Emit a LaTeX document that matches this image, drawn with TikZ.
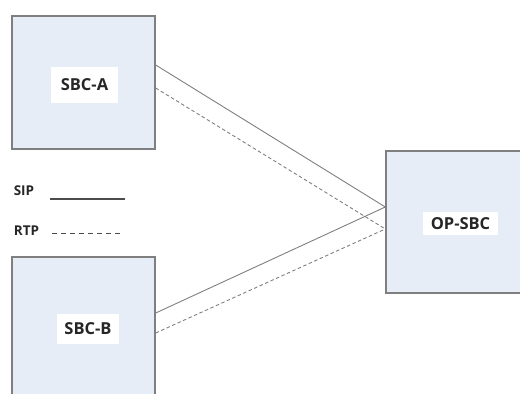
\documentclass[tikz,border=0pt]{standalone}
\usepackage{fontspec}
\setmainfont{Open Sans}
\definecolor{boxfill}{HTML}{E7EDF7}
\definecolor{boxdraw}{HTML}{7F7F7F}
\definecolor{linegray}{HTML}{808080}
\begin{document}
\begin{tikzpicture}[x=1pt,y=-1pt,
  device/.style={draw=boxdraw,line width=1.4pt,fill=boxfill,inner sep=0pt},
  devlabel/.style={fill=white,inner sep=0pt,font=\fontsize{16.5}{19}\selectfont\bfseries,text=black!85},
  legendtext/.style={inner sep=0pt,font=\fontsize{13.5}{16}\selectfont\bfseries,text=black!85},
  sipline/.style={draw=linegray,line width=0.9pt},
  rtpline/.style={draw=linegray,line width=0.9pt,dash pattern=on 3.5pt off 2.5pt},
  legsip/.style={draw=black!70,line width=1.1pt},
  legrtp/.style={draw=black!70,line width=1.1pt,dash pattern=on 5pt off 4pt}]
\useasboundingbox (0,0) rectangle (520,394);
\clip (0,0) rectangle (520,394);
\fill[white] (0,0) rectangle (520,394);
% devices
\node[device,minimum width=143pt,minimum height=133pt] (A) at (83.5,82.5) {};
\node[device,minimum width=143pt,minimum height=160pt] (B) at (83.5,337) {};
\node[device,minimum width=150pt,minimum height=142pt] (O) at (461,222) {};
% labels
\node[devlabel,minimum width=67pt,minimum height=36pt] (la) at (84.5,85) {SBC-A};
\node[devlabel,minimum width=62pt,minimum height=30pt] (lb) at (88,329) {SBC-B};
\node[devlabel,minimum width=75pt,minimum height=23pt] (lo) at (460.5,223.5) {OP-SBC};
% connectors
\draw[sipline] ([yshift=17.5pt]A.east) -- ([yshift=15pt]O.west);
\draw[rtpline] ([yshift=-5.5pt]A.east) -- ([yshift=-7pt]O.west);
\draw[sipline] ([yshift=24pt]B.east) -- ([yshift=15pt]O.west);
\draw[rtpline] ([yshift=4pt]B.east) -- ([yshift=-7pt]O.west);
% legend
\node[legendtext] (sip) at (24,191) {SIP};
\node[legendtext] (rtp) at (26.5,231) {RTP};
\coordinate (s1) at (50,199);
\coordinate (s2) at (125,199);
\coordinate (r1) at (52,233.5);
\coordinate (r2) at (122,233.5);
\draw[legsip] (s1) -- (s2);
\draw[legrtp] (r1) -- (r2);
\end{tikzpicture}
\end{document}
